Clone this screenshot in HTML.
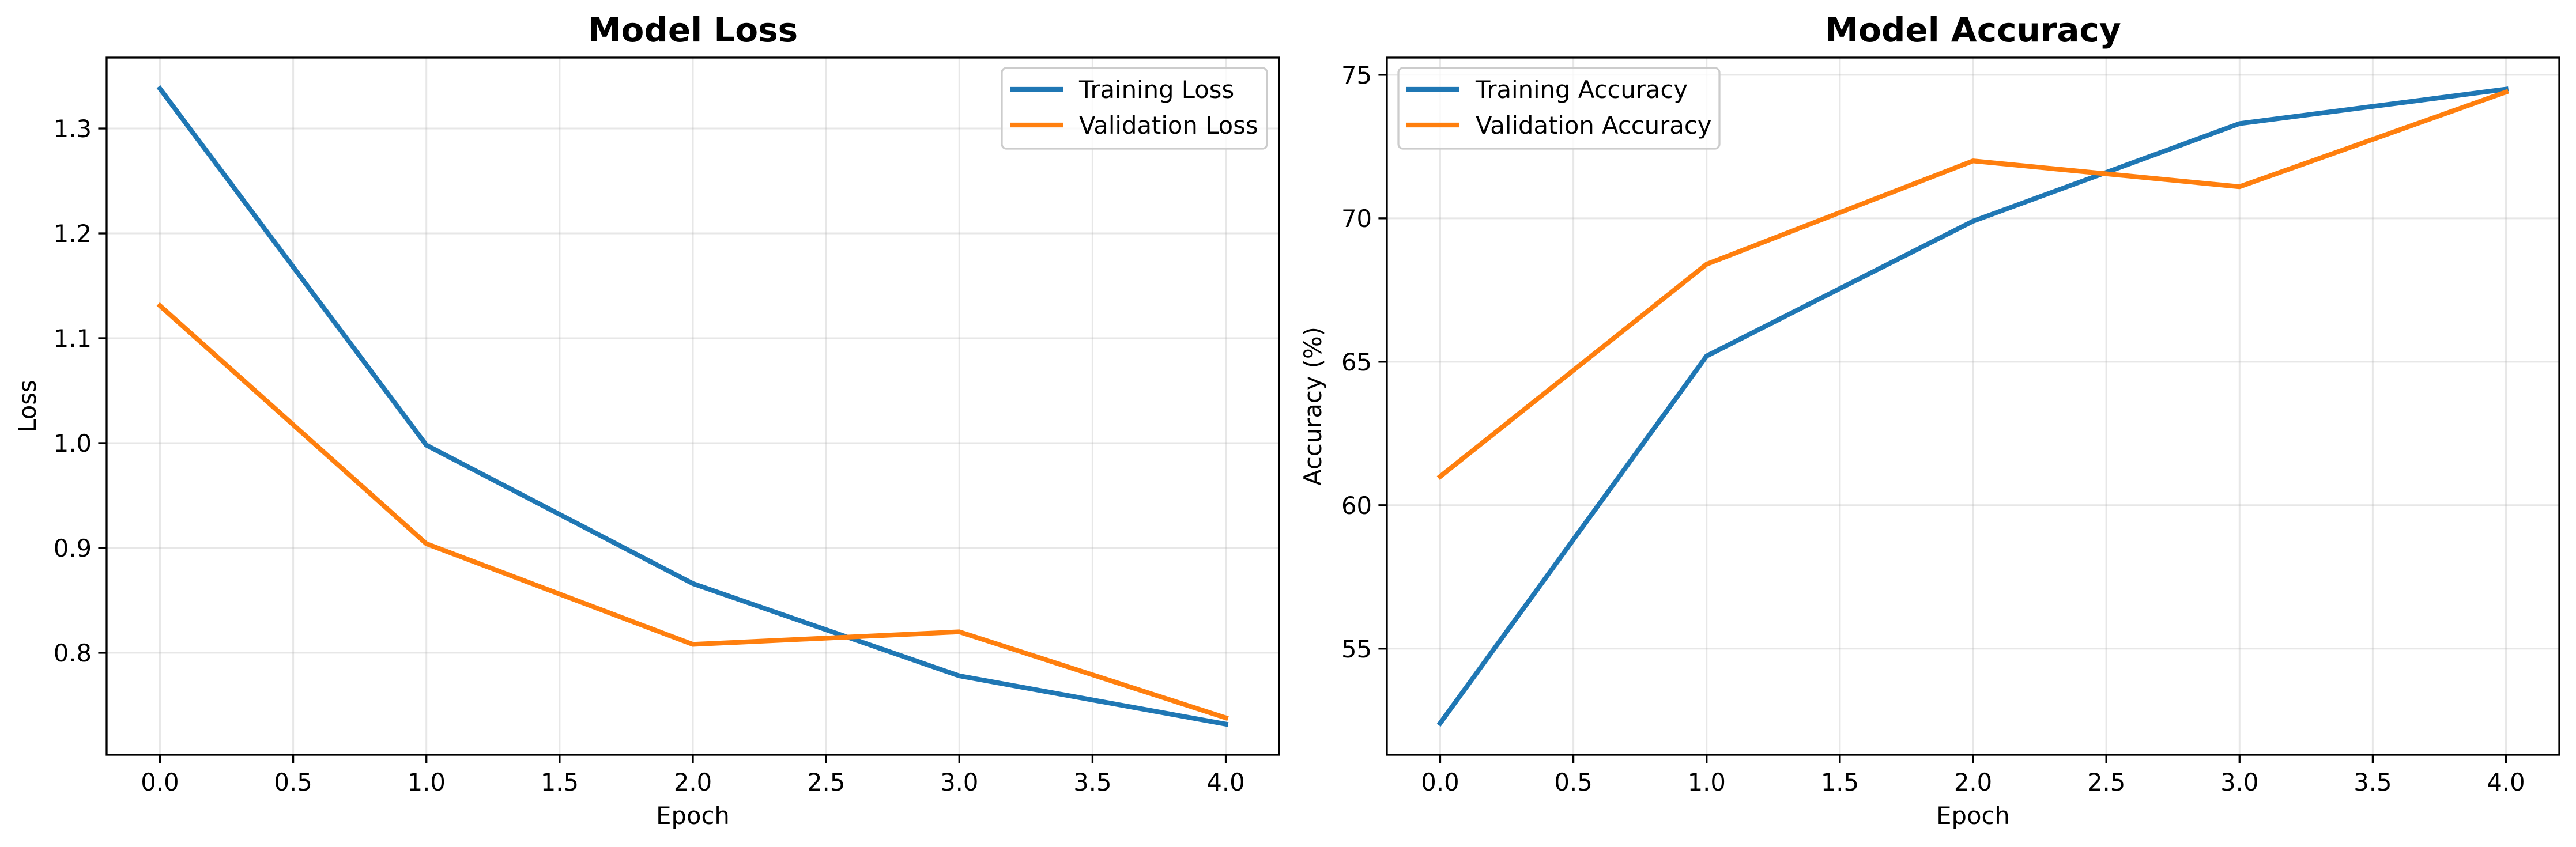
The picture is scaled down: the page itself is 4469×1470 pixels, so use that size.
<!DOCTYPE html>
<html><head><meta charset="utf-8"><style>
html,body{margin:0;padding:0;background:#fff;}
svg{display:block;font-family:"DejaVu Sans","Liberation Sans",sans-serif;}
</style></head><body>
<svg id="chart" width="4469" height="1470" viewBox="0 0 4469 1470" xmlns="http://www.w3.org/2000/svg"></svg>
<script>
const epochs = [0, 1, 2, 3, 4];
const trainLoss = [1.338, 0.998, 0.866, 0.778, 0.732];
const valLoss = [1.131, 0.904, 0.808, 0.820, 0.738];
const trainAcc = [52.4, 65.2, 69.9, 73.3, 74.5];
const valAcc = [61.0, 68.4, 72.0, 71.1, 74.4];
const xTicks = [0, 0.5, 1, 1.5, 2, 2.5, 3, 3.5, 4];
const lossTicks = [0.8, 0.9, 1.0, 1.1, 1.2, 1.3];
const accTicks = [55, 60, 65, 70, 75];

const NS = "http://www.w3.org/2000/svg";
const svg = document.getElementById('chart');
function mk(tag, attrs, parent, text) {
  const e = document.createElementNS(NS, tag);
  for (const k in attrs) e.setAttribute(k, attrs[k]);
  if (text !== undefined) e.textContent = text;
  (parent || svg).appendChild(e);
  return e;
}
function panel(cfg) {
  const g = mk('g', {});
  
  
  const L = cfg.left, R = cfg.right, T = 100, B = 1310;
  const xs = v => L + (v - (-0.2)) / 4.4 * (R - L);
  const ys = v => B - (v - cfg.ymin) / (cfg.ymax - cfg.ymin) * (B - T);
  // grid
  xTicks.forEach(t => {
    const l = mk('line', {x1: xs(t), x2: xs(t), y1: T, y2: B, stroke: '#b0b0b0', 'stroke-opacity': 0.3, 'stroke-width': 3}, g);
    
    
  });
  cfg.yTicks.forEach(t => {
    const l = mk('line', {x1: L, x2: R, y1: ys(t), y2: ys(t), stroke: '#b0b0b0', 'stroke-opacity': 0.3, 'stroke-width': 3}, g);
    
    
  });
  // series
  cfg.series.forEach(s => {
    const p = mk('polyline', {points: epochs.map((e, i) => xs(e) + ',' + ys(s.data[i])).join(' '), fill: 'none', stroke: s.color, 'stroke-width': 8.3, 'stroke-linecap': 'square', 'stroke-linejoin': 'round'}, g);
    
    
  });
  // spines
  const f = mk('rect', {x: L, y: T, width: R - L, height: B - T, fill: 'none', stroke: '#000', 'stroke-width': 3.3}, g);
  
  
  // ticks
  xTicks.forEach(t => {
    const l = mk('line', {x1: xs(t), x2: xs(t), y1: B, y2: B + 14.6, stroke: '#000', 'stroke-width': 3.3}, g);
    
    
    const tx = mk('text', {x: xs(t), y: B + 62, 'font-size': 41.7, 'text-anchor': 'middle'}, g, t.toFixed(1));
    
    
  });
  cfg.yTicks.forEach(t => {
    const l = mk('line', {x1: L - 14.6, x2: L, y1: ys(t), y2: ys(t), stroke: '#000', 'stroke-width': 3.3}, g);
    
    
    const tx = mk('text', {x: L - 26, y: ys(t) + 15, 'font-size': 41.7, 'text-anchor': 'end'}, g, cfg.fmt(t));
    
    
  });
  const ti = mk('text', {x: (L + R) / 2, y: 72, 'font-size': 58, 'font-weight': 'bold', 'text-anchor': 'middle'}, g, cfg.title);
  
  
  const xl = mk('text', {x: (L + R) / 2, y: 1430, 'font-size': 41.7, 'text-anchor': 'middle'}, g, 'Epoch');
  
  
  const yl = mk('text', {x: cfg.ylx, y: (T + B) / 2, 'font-size': 41.7, 'text-anchor': 'middle', transform: `rotate(-90 ${cfg.ylx} ${(T + B) / 2})`}, g, cfg.ylabel);
  
  
  // legend
  const lg = mk('g', {}, g);
  
  
  mk('rect', {x: cfg.lgx, y: 118, width: cfg.lgw, height: 140, rx: 8, fill: '#fff', 'fill-opacity': 0.8, stroke: '#cccccc', 'stroke-width': 3.3}, lg);
  cfg.series.forEach((s, i) => {
    const yy = 155 + i * 62;
    const e = mk('g', {}, lg);
    
    
    mk('line', {x1: cfg.lgx + 14, x2: cfg.lgx + 106, y1: yy, y2: yy, stroke: s.color, 'stroke-width': 8.3}, e);
    mk('text', {x: cfg.lgx + 134, y: yy + 15, 'font-size': 41.7}, e, s.label);
  });
}
panel({name: 'loss-panel', left: 185, right: 2219, ymin: 0.7027, ymax: 1.3676, yTicks: lossTicks, fmt: t => t.toFixed(1),
  title: 'Model Loss', ylabel: 'Loss', ylx: 62, lgx: 1738, lgw: 460,
  series: [{id: 'training-loss-line', label: 'Training Loss', data: trainLoss, color: '#1f77b4'},
           {id: 'validation-loss-line', label: 'Validation Loss', data: valLoss, color: '#ff7f0e'}]});
panel({name: 'accuracy-panel', left: 2406, right: 4440, ymin: 51.3, ymax: 75.6, yTicks: accTicks, fmt: t => String(t),
  title: 'Model Accuracy', ylabel: 'Accuracy (%)', ylx: 2292, lgx: 2426, lgw: 557,
  series: [{id: 'training-accuracy-line', label: 'Training Accuracy', data: trainAcc, color: '#1f77b4'},
           {id: 'validation-accuracy-line', label: 'Validation Accuracy', data: valAcc, color: '#ff7f0e'}]});
</script>
</body></html>
